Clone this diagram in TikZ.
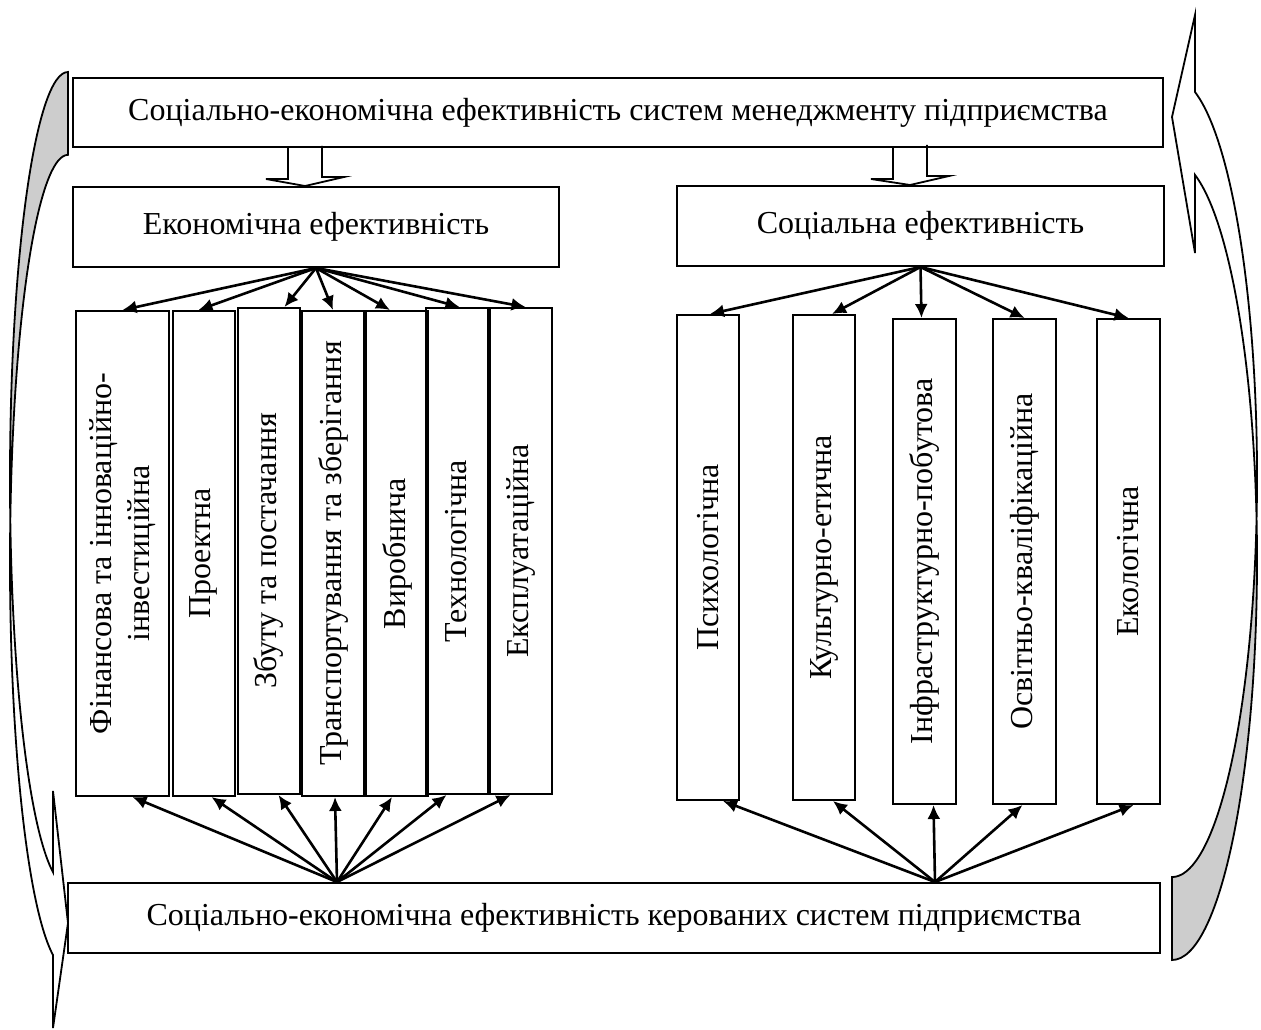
\documentclass[tikz,border=0pt]{standalone}
\usepackage{fontspec}
\setmainfont{Liberation Serif}
\usetikzlibrary{positioning, arrows.meta}
\definecolor{backgray}{RGB}{205,205,205}
\tikzset{
  >={Latex[length=14pt,width=13pt]},
  wide/.style={draw, line width=2pt, inner sep=0pt},
  tall/.style={draw, line width=2pt, inner sep=0pt,
    minimum width=62, minimum height=485},
  link/.style={->, line width=2.6pt},
  hollow/.style={draw, line width=1.8pt},
  curved/.style={draw, line width=1.8pt}
}

\begin{document}
\begin{tikzpicture}[x=1pt, y=-1pt, font=\fontsize{32}{38}\selectfont]
  \useasboundingbox (0,0) rectangle (1261,1030);

  % curved arrows round the scheme
  \fill[backgray] (68,72) arc[start angle=-90, end angle=-185.85, x radius=58, y radius=407]
    arc[start angle=-174.15, end angle=-90, x radius=58, y radius=407] -- cycle;
  \draw[curved] (68,72) arc[start angle=-90, end angle=-255, x radius=58, y radius=407]
    -- (53,791) -- (68,923) -- (53,1028) -- (53,955)
    arc[start angle=-255, end angle=-90, x radius=58, y radius=407] -- cycle;
  \fill[backgray] (1172,960) arc[start angle=90, end angle=-5.95, x radius=85, y radius=400]
    arc[start angle=5.95, end angle=90, x radius=85, y radius=400] -- cycle;
  \draw[curved] (1172,960) arc[start angle=90, end angle=-74.3, x radius=85, y radius=400]
    -- (1195,253) -- (1172,117) -- (1195,15) -- (1195,92)
    arc[start angle=-74.3, end angle=90, x radius=85, y radius=400] -- cycle;

  \node[wide, minimum width=1090, minimum height=69] (top) at (618,112.5)
    {Соціально-економічна ефективність систем менеджменту підприємства};
  \node[wide, minimum width=486, minimum height=80] (econ) at (316,227)
    {\raisebox{6pt}{Економічна ефективність}};
  \node[wide, minimum width=487, minimum height=80] (soc) at (920.5,226)
    {\raisebox{7pt}{Соціальна ефективність}};
  \node[wide, minimum width=1092, minimum height=70] (bottom) at (614,918)
    {Соціально-економічна ефективність керованих систем підприємства};

  % economic kinds
  \node[tall, minimum width=93] (e1) at (122.5,553.5)
    {\rotatebox{90}{\begin{tabular}{@{}c@{}}Фінансова та інноваційно-\\інвестиційна\end{tabular}}};
  \node[tall] (e2) at (203.5,553.5) {\rotatebox{90}{Проектна}};
  \node[tall, minimum height=486] (e3) at (268.5,551) {\rotatebox{90}{Збуту та постачання}};
  \node[tall] (e4) at (333,553.5) {\rotatebox{90}{Транспортування та зберігання}};
  \node[tall, right=0pt of e4] (e5) {\rotatebox{90}{Виробнича}};
  \node[tall, minimum height=486] (e6) at (456.5,551) {\rotatebox{90}{Технологічна}};
  \node[tall, minimum height=486, right=0pt of e6] (e7) {\rotatebox{90}{Експлуатаційна}};

  % social kinds
  \node[tall] (s1) at (708,557.5) {\rotatebox{90}{Психологічна}};
  \node[tall] (s2) at (824,557.5) {\rotatebox{90}{Культурно-етична}};
  \node[tall, minimum width=63] (s3) at (924.5,561.5) {\rotatebox{90}{Інфраструктурно-побутова}};
  \node[tall, minimum width=63] (s4) at (1024.5,561.5) {\rotatebox{90}{Освітньо-кваліфікаційна}};
  \node[tall, minimum width=63] (s5) at (1128.5,561.5) {\rotatebox{90}{Екологічна}};

  % hollow arrows from the top block
  \coordinate (la) at (305,0);
  \coordinate (ra) at (910,0);
  \draw[hollow] (top.south -| la) ++(-17,0) -- ++(0,31) -- ++(-22,0) -- (econ.north -| la)
    -- ++(39,-9) -- ++(-22,0) -- ++(0,-31);
  \draw[hollow] (top.south -| ra) ++(-17,0) -- ++(0,31) -- ++(-22,0) -- (soc.north -| ra)
    -- ++(39,-9) -- ++(-22,0) -- ++(0,-31);

  \foreach \b/\s in {e1/0, e2/-5, e3/16, e4/0, e5/-7, e6/3, e7/5}
    \draw[link] (econ.south) -- ([xshift=\s]\b.north);
  \foreach \b/\s in {e1/10, e2/8, e3/10, e4/2, e5/-5, e6/-10, e7/-10}
    \draw[link] ([xshift=-277]bottom.north) -- ([xshift=\s]\b.south);
  \foreach \b/\s in {s1/2, s2/8, s3/-3, s4/0, s5/0}
    \draw[link] (soc.south) -- ([xshift=\s]\b.north);
  \foreach \b/\s in {s1/15, s2/9, s3/9, s4/-2, s5/5}
    \draw[link] ([xshift=321]bottom.north) -- ([xshift=\s]\b.south);
\end{tikzpicture}
\end{document}
